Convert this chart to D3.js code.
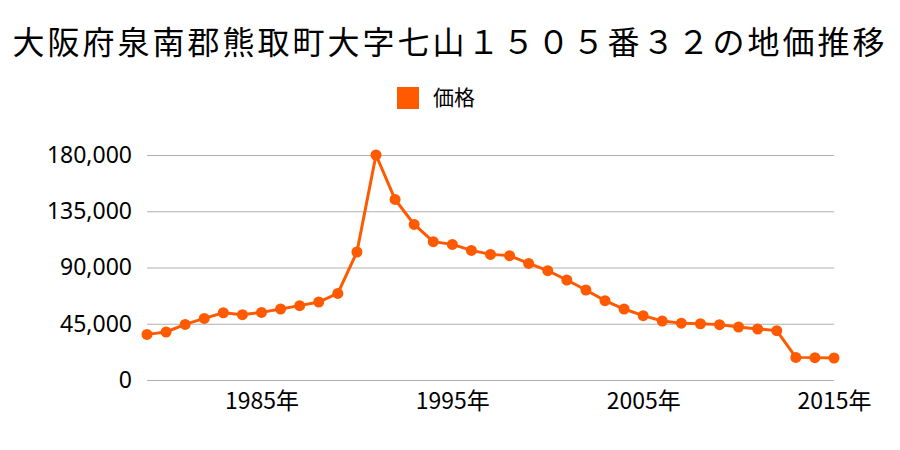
<!DOCTYPE html>
<html>
<head>
<meta charset="utf-8">
<script src="https://cdn.jsdelivr.net/npm/d3@7"></script>
<style>
  body { margin: 0; background: #fff; }
  text { font-family: "Noto Sans CJK JP", "Noto Sans", sans-serif; }
</style>
</head>
<body>
<script>
const title = "大阪府泉南郡熊取町大字七山１５０５番３２の地価推移";
const seriesName = "価格";
const years = [1979, 1980, 1981, 1982, 1983, 1984, 1985, 1986, 1987, 1988, 1989, 1990,
    1991, 1992, 1993, 1994, 1995, 1996, 1997, 1998, 1999, 2000, 2001, 2002, 2003, 2004,
    2005, 2006, 2007, 2008, 2009, 2010, 2011, 2012, 2013, 2014, 2015];
const prices = [36500, 38400, 44500, 49300, 53800, 52300, 54100, 56800, 59500, 62400, 69300, 102400,
    180000, 144500, 124500, 110700, 108500, 103700, 100500, 99500, 93300, 87500, 80000, 72000, 63500, 56800,
    51500, 47200, 45500, 45000, 44300, 42400, 40800, 39500, 18100, 17900, 17600];
const yTicks = [0, 45000, 90000, 135000, 180000];
const xTicks = [1985, 1995, 2005, 2015];

const width = 900, height = 450;
const color = "#ff5a00";

var svg = d3.select("body").append("svg")
    .attr("width", width)
    .attr("height", height);

var x = d3.scaleLinear().domain([1979, 2015]).range([147, 834]);
var y = d3.scaleLinear().domain([0, 180000]).range([380, 155]);

// title
svg.append("text")
    .attr("x", width / 2)
    .attr("y", 54)
    .attr("text-anchor", "middle")
    .attr("font-size", 32)
    .attr("letter-spacing", 3)
    .attr("fill", "#000")
    .text(title);

// legend
svg.append("rect")
    .attr("x", 397).attr("y", 87)
    .attr("width", 22).attr("height", 22)
    .attr("fill", color);
svg.append("text")
    .attr("x", 433).attr("y", 105)
    .attr("font-size", 21)
    .attr("fill", "#000")
    .text(seriesName);

// y axis with gridlines
var yAxis = d3.axisLeft(y)
    .tickValues(yTicks)
    .tickSize(-(x.range()[1] - x.range()[0]))
    .tickPadding(15)
    .tickFormat(d3.format(","));
var gy = svg.append("g")
    .attr("transform", "translate(" + x.range()[0] + ",0)")
    .call(yAxis);
gy.select(".domain").remove();
gy.selectAll("line").attr("stroke", "#b0b0b0").attr("stroke-width", 1.2);
gy.selectAll("text")
    .attr("font-size", 23)
    .attr("fill", "#000")
    .style("font-family", "'Noto Sans', sans-serif");

// x axis labels
var xAxis = d3.axisBottom(x)
    .tickValues(xTicks)
    .tickSize(0)
    .tickPadding(13)
    .tickFormat(d => d + "年");
var gx = svg.append("g")
    .attr("transform", "translate(0," + y.range()[0] + ")")
    .call(xAxis);
gx.select(".domain").remove();
gx.selectAll("text")
    .attr("font-size", 23)
    .attr("fill", "#000");

// line and points
var data = years.map((yr, i) => ({ year: yr, value: prices[i] }));

svg.append("path")
    .datum(data)
    .attr("fill", "none")
    .attr("stroke", color)
    .attr("stroke-width", 3)
    .attr("d", d3.line().x(d => x(d.year)).y(d => y(d.value)));

svg.selectAll(".pt")
    .data(data)
    .enter().append("circle")
    .attr("class", "pt")
    .attr("cx", d => x(d.year))
    .attr("cy", d => y(d.value))
    .attr("r", 5.5)
    .attr("fill", color);
</script>
</body>
</html>
